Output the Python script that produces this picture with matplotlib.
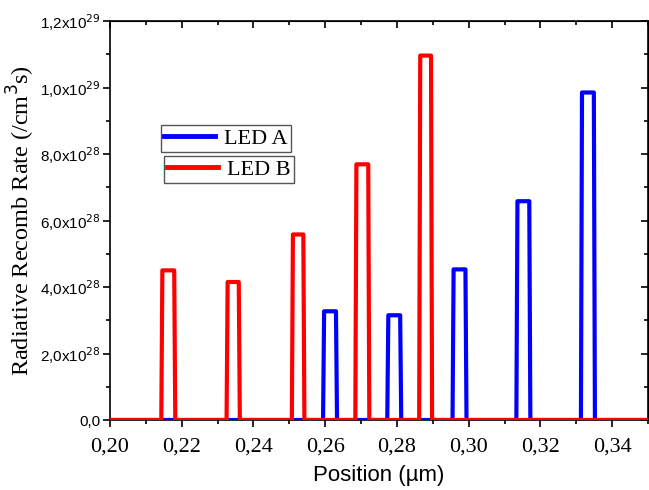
import matplotlib
matplotlib.use("Agg")
import matplotlib.pyplot as plt
from matplotlib.ticker import FixedLocator, MultipleLocator, FuncFormatter
from matplotlib.lines import Line2D
import numpy as np

# ---- data ----
x_min, x_max = 0.20, 0.35
y_min, y_max = 0.0, 1.2e29

led_b_left = [0.2143, 0.2325, 0.2507, 0.2684, 0.2862]
led_b_right = [0.2182, 0.2362, 0.2542, 0.2723, 0.2898]
led_b_height = [4.50e28, 4.15e28, 5.58e28, 7.69e28, 1.096e29]

led_a_left = [0.2594, 0.2773, 0.2955, 0.3133, 0.3313]
led_a_right = [0.2633, 0.2812, 0.2994, 0.3172, 0.3352]
led_a_height = [3.27e28, 3.15e28, 4.53e28, 6.58e28, 9.85e28]

x_ticks = [0.20, 0.22, 0.24, 0.26, 0.28, 0.30, 0.32, 0.34]
x_ticklabels = ["0,20", "0,22", "0,24", "0,26", "0,28", "0,30", "0,32", "0,34"]
y_ticks = [0.0, 2e28, 4e28, 6e28, 8e28, 1.0e29, 1.2e29]

series_names = ["LED A", "LED B"]
colors = ["#0000ff", "#ff0000"]


def profile(lefts, rights, heights, inset=0.0003):
    xs, ys = [x_min], [0.0]
    for l, r, h in zip(lefts, rights, heights):
        xs += [l, l + inset, r - inset, r]
        ys += [0.0, h, h, 0.0]
    xs.append(x_max)
    ys.append(0.0)
    return np.array(xs), np.array(ys)


fig = plt.figure(figsize=(6.49, 4.90), dpi=100)
ax = fig.add_axes([110 / 649, 70 / 490, 538 / 649, 399 / 490])

xa, ya = profile(led_a_left, led_a_right, led_a_height)
xb, yb = profile(led_b_left, led_b_right, led_b_height)
ax.plot(xa, ya, color=colors[0], lw=3.0, zorder=3)
ax.plot(xb, yb, color=colors[1], lw=3.0, zorder=4)

ax.set_xlim(x_min, x_max)
ax.set_ylim(y_min, y_max)

serif = ["Liberation Serif", "DejaVu Serif"]
sans = ["Liberation Sans", "DejaVu Sans"]

ax.xaxis.set_major_locator(FixedLocator(x_ticks))
ax.set_xticklabels(x_ticklabels, fontfamily=serif, fontsize=16)
ax.xaxis.set_minor_locator(MultipleLocator(0.01))
ax.yaxis.set_major_locator(FixedLocator(y_ticks))
ax.yaxis.set_minor_locator(MultipleLocator(1e28))


def yfmt(v, pos):
    if v == 0:
        return "0,0"
    e = int(np.floor(np.log10(abs(v)) + 1e-9))
    m = v / 10 ** e
    return ("%.1f" % m).replace(".", ",") + r"x10$^{%d}$" % e


ax.yaxis.set_major_formatter(FuncFormatter(yfmt))
for lab in ax.get_yticklabels():
    lab.set_fontfamily(sans)
    lab.set_fontsize(11)

ax.tick_params(which="both", direction="out", top=False, right=False, width=1.2)
ax.tick_params(which="major", length=5)
ax.tick_params(which="minor", length=3)
ax.tick_params(axis="y", which="major", pad=2)
ax.tick_params(axis="x", which="major", pad=7.5)

# inward ticks on top/right
ax_top = ax.secondary_xaxis("top")
ax_top.xaxis.set_major_locator(FixedLocator(x_ticks))
ax_top.xaxis.set_minor_locator(MultipleLocator(0.01))
ax_top.tick_params(which="both", direction="in", labeltop=False, width=1.2)
ax_top.tick_params(which="major", length=5)
ax_top.tick_params(which="minor", length=3)
ax_right = ax.secondary_yaxis("right")
ax_right.yaxis.set_major_locator(FixedLocator(y_ticks))
ax_right.yaxis.set_minor_locator(MultipleLocator(1e28))
ax_right.tick_params(which="both", direction="in", labelright=False, width=1.2)
ax_right.tick_params(which="major", length=5)
ax_right.tick_params(which="minor", length=3)

for sp in ax.spines.values():
    sp.set_linewidth(1.2)

ax.set_xlabel("Position (µm)", fontfamily=sans, fontsize=16, va="top")
ax.xaxis.set_label_coords(0.5, -0.113)
ax.set_ylabel("Radiative Recomb Rate (/cm$^3$s)", fontfamily=serif, fontsize=17.5, labelpad=2)

# two separate legend boxes
h_a = [Line2D([], [], color=colors[0], lw=3.5)]
h_b = [Line2D([], [], color=colors[1], lw=3.5)]
common = dict(loc="upper left", frameon=True, fancybox=False, framealpha=1,
              edgecolor="#555555", borderaxespad=0, borderpad=0.15,
              handlelength=2.3, handletextpad=0.4,
              prop={"family": serif, "size": 16})
leg_a = ax.legend(h_a, [series_names[0]], bbox_to_anchor=(161 / 649, 1 - 125 / 490),
                  bbox_transform=fig.transFigure, **common)
leg_a.get_frame().set_linewidth(1.0)
ax.add_artist(leg_a)
leg_b = ax.legend(h_b, [series_names[1]], bbox_to_anchor=(164 / 649, 1 - 156 / 490),
                  bbox_transform=fig.transFigure, **common)
leg_b.get_frame().set_linewidth(1.0)

fig.savefig("out.png", dpi=100)
